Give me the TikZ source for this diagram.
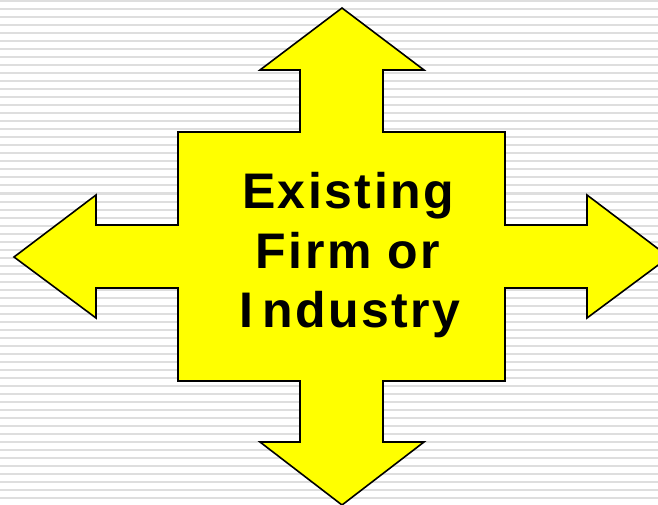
\documentclass[tikz,border=0pt]{standalone}
\usepackage{fontspec}
\setmainfont{Liberation Sans}
\newfontfamily\labelfont[LetterSpace=5]{Liberation Sans Bold}
\definecolor{crossyellow}{RGB}{255,255,0}
\definecolor{stripegray}{RGB}{222,222,222}
\begin{document}
\begin{tikzpicture}[x=1pt,y=-1pt,
  stripe/.style={draw=stripegray,line width=2pt},
  crossshape/.style={fill=crossyellow,draw=black,line width=1.6pt,line join=miter},
  labeltext/.style={font=\labelfont\fontsize{50}{60}\selectfont,text=black,anchor=base,inner sep=0pt}]
\useasboundingbox (0,0) rectangle (658,505);
\fill[white] (0,0) rectangle (658,505);
\clip (0,0) rectangle (658,505);
\foreach \k in {0,...,63}{
  \draw[stripe] (0,{1.5+8*\k}) -- (658,{1.5+8*\k});
}
\draw[crossshape] (342,8) -- (424,70) -- (383,70) -- (383,132) -- (505,132) -- (505,225)
  -- (587,225) -- (587,195) -- (669,257) -- (587,318) -- (587,288) -- (505,288)
  -- (505,381) -- (383,381) -- (383,442) -- (424,442) -- (342,505) -- (260,442)
  -- (300,442) -- (300,381) -- (178,381) -- (178,288) -- (96,288) -- (96,318)
  -- (14,257) -- (96,195) -- (96,225) -- (178,225) -- (178,132) -- (300,132)
  -- (300,70) -- (260,70) -- cycle;
\node[labeltext] (l1) at (348,208) {Existing};
\node[labeltext] (l2) at (348,268) {Firm or};
\node[labeltext] (l3) at (350,327) {I\hspace{9pt}ndustry};
\end{tikzpicture}
\end{document}
